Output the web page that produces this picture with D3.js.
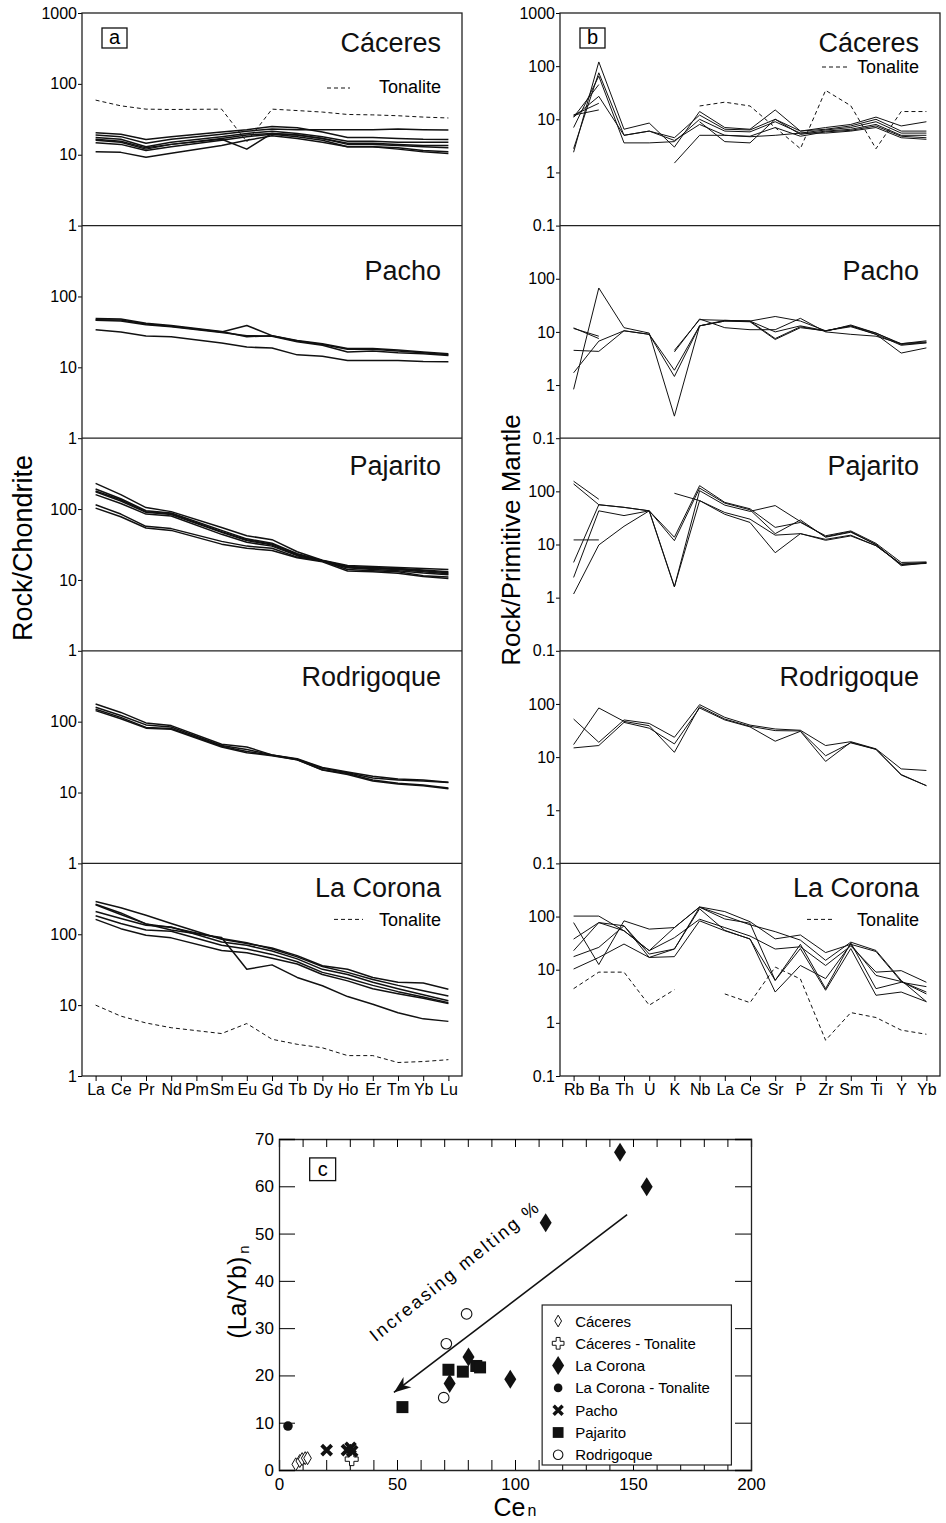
<!DOCTYPE html>
<html lang="en">
<head>
<meta charset="UTF-8">
<title>REE, spider and (La/Yb)n vs Ce diagrams</title>
<script src="https://cdnjs.cloudflare.com/ajax/libs/d3/7.8.5/d3.min.js"></script>
<style>
  body { margin: 0; background: #fff; }
  svg { display: block; font-family: Arial, "Liberation Sans", sans-serif; }
</style>
</head>
<body>
<script>
  // element order on the two x axes
  const reeElements = ["La","Ce","Pr","Nd","Pm","Sm","Eu","Gd","Tb","Dy","Ho","Er","Tm","Yb","Lu"];
  const spiderElements = ["Rb","Ba","Th","U","K","Nb","La","Ce","Sr","P","Zr","Sm","Ti","Y","Yb"];
  const units = ["Cáceres", "Pacho", "Pajarito", "Rodrigoque", "La Corona"];

  // --- (a) rock / chondrite, one row per sample, Pm not analysed ---
  const reeCaceres = [
    [20.5, 19.5, 16.4, 18, null, 21, 22.5, 25, 24, 21, 17.5, 17.5, 17, 16.5, 16.4],
    [19, 18, 14.5, 16.5, null, 19.5, 21.5, 23, 22.5, 22.5, 22.5, 22.5, 23, 22.5, 22.3],
    [17.5, 16.5, 13, 15, null, 18, 20, 21.5, 20, 18, 15.5, 15.5, 15, 15, 15],
    [16, 15, 12, 14, null, 17, 19, 20, 19, 17, 14.5, 14.5, 14, 13.5, 13.5],
    [14.8, 14, 11.5, 13, null, 16, 18, 19.5, 18, 16, 13, 13, 12.5, 11.5, 11],
    [11, 10.8, 9.2, 10.5, null, 13.5, 16, 18.5, 17, 15, 13, 13, 12, 11, 10.4],
    [16.5, 15.5, 12.5, 14, null, 16.5, 12, 20, 19, 17, 14, 14, 13.5, 13, 12.5]
  ];
  const reeCaceresTonalite = [59, 49, 44, 43.5, null, 44, 15.2, 44, 42, 40, 37, 36.5, 35.5, 34, 33];
  const reePacho = [
    [49, 48, 42, 39, null, 32, 27, 28, 24, 21.5, 18.5, 18.5, 17.5, 16.5, 15.5],
    [47, 46.5, 41, 38, null, 31.5, 39, 28, 23.5, 21, 18, 18, 17, 16, 15],
    [46, 45, 40, 37.5, null, 31, 28, 27.5, 23, 20.5, 16.5, 17, 16, 15.5, 14.7],
    [34, 31.6, 27.7, 27, null, 22, 19.3, 18.7, 15, 14.3, 12.5, 12.5, 12.5, 12.1, 12]
  ];
  const reePajarito = [
    [230, 160, 105, 92, null, 55, 42, 37, 25, 19, 16, 15.5, 15, 14.5, 14],
    [192, 140, 95, 88, null, 50, 38, 33, 23.5, 18.8, 15.5, 15, 14.5, 13.8, 13],
    [180, 135, 92, 86, null, 48, 37, 32, 23, 18.6, 15.2, 14.7, 14.3, 13.5, 12.6],
    [175, 130, 90, 84, null, 47, 36, 31, 22.5, 18.5, 15, 14.5, 14, 13, 12.2],
    [160, 120, 85, 80, null, 44, 34, 30, 22, 18.3, 14.8, 14, 13.5, 12.5, 11.8],
    [115, 85, 57, 53, null, 35, 30, 28, 21, 18.5, 14, 13.5, 13, 11.5, 11],
    [103, 78, 54, 50, null, 32, 28, 26, 20.5, 18, 13.4, 13, 12.4, 11.2, 10.5]
  ];
  const reeRodrigoque = [
    [178, 135, 96, 88, null, 48, 44, 34, 30, 22.5, 19.5, 17, 15.5, 15, 14],
    [160, 122, 90, 84, null, 46, 40.5, 34, 29.5, 22, 19, 16, 15, 14.5, 13.8],
    [150, 115, 83, 80, null, 45, 38, 33.5, 29, 21, 18.5, 15, 13.5, 12.8, 11.6],
    [143, 110, 81, 78, null, 44, 36.5, 33, 29, 20.8, 18, 14.5, 13.2, 12.5, 11.3]
  ];
  const reeLaCorona = [
    [290, 237, 186, 142, null, 85, 74, 64, 50, 36, 32, 24.5, 21, 20.5, 16.8],
    [265, 200, 140, 125, null, 87, 76, 62, 48, 35, 29, 23, 19, 16, 13.5],
    [210, 167, 134, 127, null, 78, 70, 58, 45, 32, 27, 21, 17, 14, 11.5],
    [183, 142, 115, 110, null, 70, 62, 52, 41, 29, 24, 19, 15.5, 13, 10.8],
    [162, 120, 97, 89, null, 59, 55, 46, 38, 27, 22, 17, 14.5, 12.5, 10.5],
    [260, 190, 140, 115, null, 90, 32, 37, 24.6, 18.8, 13.2, 10.3, 7.8, 6.4, 5.9]
  ];
  const reeLaCoronaTonalite = [10, 7, 5.6, 4.8, null, 3.97, 5.5, 3.3, 2.8, 2.5, 1.94, 1.94, 1.55, 1.6, 1.7];

  // --- (b) rock / primitive mantle, null = not analysed (line breaks) ---
  const spCaceres = [
    [2.4, 120, 6.5, 8.5, 3.0, 14, 7, 6.5, 15, 6, 7, 8, 11, 7.5, 9],
    [2.8, 75, 5, 6, 4.5, 12, 6.5, 6.3, 10, 6, 6.5, 7.5, 10, 6, 6],
    [7, 65, 3.6, 3.6, 3.8, 10, 6, 5.8, 9, 5.5, 6.3, 7, 9, 5.5, 5.5],
    [11, 45, null, null, null, 9, 3.8, 3.6, 10, 5.2, 6, 6.5, 8, 5, 5],
    [11, 27, 5, 6, 4, 8, 5, 4.8, 7, 4.8, 5.8, 6.2, 7.5, 4.8, 4.5],
    [12, 20, null, null, null, null, null, null, null, null, null, null, null, null, null],
    [12, 15, null, null, null, null, null, null, null, null, null, null, null, null, null],
    [null, null, null, null, 1.5, 5, 5, 4.7, 5, 5.5, 5.5, 6, 7, 4.5, 4.2]
  ];
  const spCaceresTonalite = [null, null, null, null, null, 17.8, 21, 17.8, 7, 2.8, 35, 18, 2.8, 14, 14];
  const spPacho = [
    [0.83, 67, 12, 9.5, 0.26, 13, 16, 16, 10, 13, 10.5, 13, 9.5, 6, 6.5],
    [1.7, 6.7, 10.5, 9, 1.45, 13, 16.5, 16, 7.5, 12.5, 10.3, 13.5, 9.5, 5.8, 6.3],
    [4.5, 4.3, 10.5, 9, 1.9, 13, 16, 15.5, 7.2, 12, 10.5, 13, 9, 5.6, 6.2],
    [11.9, 7.5, null, null, null, null, null, null, null, null, null, null, null, null, null],
    [11.6, 8.3, null, null, null, null, null, null, null, null, null, null, null, null, null],
    [null, null, null, null, 4.5, 17, 16.5, 16, 19.5, 16, 10.5, 12.5, 9, 4, 5],
    [null, null, null, null, 4.2, 17.5, 12, 11, 11, 18, 10, 9, 8.3, 6, 6.8]
  ];
  const spPajarito = [
    [155, 71, null, null, null, null, null, null, null, null, null, null, null, null, null],
    [138, 56, 50, 43, 13.7, 128, 62, 47, 21, 26, 14.6, 18, 10.5, 4.6, 4.7],
    [4.6, 56, 50, 43, 11.8, 115, 60, 45, 16, 29, 13.7, 17, 10, 4.2, 4.5],
    [2.4, 43, 35, 43, 1.6, 103, 55, 42, 54, 27, 14, 17.5, 10, 4, 4.5],
    [1.17, 9.8, 22, 43, 1.6, 67, 40, 30, 15, 16, 12, 14.5, 9.5, 4.3, 4.6],
    [12.2, 12.2, null, null, null, null, null, null, null, null, null, null, null, null, null],
    [null, null, null, null, 92, 67, 37, 26, 7, 16, 12.5, 15, 9.5, 4.2, 4.4]
  ];
  const spRodrigoque = [
    [52, 19, 50, 43, 23.6, 97, 56, 40, 33.8, 32, 16.5, 19.5, 14.3, 6, 5.6],
    [17.2, 84, 47, 39, 12.3, 89, 52, 38, 31.5, 31, 10.6, 18.5, 14, 4.6, 2.9],
    [14.9, 16.5, 45, 35, 17.7, 84, 50, 37, 19.9, 30.6, 8.3, 19, 14, 4.7, 2.9]
  ];
  const spLaCorona = [
    [102, 102, 54, 22.8, 62, 152, 124, 80, 38, 45, 21, 30, 22, 6, 3.8],
    [77, 12.5, 83, 58, 62, 150, 103, 70, 52, 36, 15, 33, 23, 6.3, 2.5],
    [37.7, 77, 54, 22.8, 40, 89, 62, 43, 24.5, 27, 12, 28, 9, 9.6, 5.8],
    [22.8, 77, 67, 19.7, 24.5, 150, 90, 75, 6.3, 30, 4.4, 32, 4.4, 5.8, 4.8],
    [17.6, 26.3, 67, 17, 17.6, 83, 54, 38, 3.8, 12, 6.8, 30, 7.8, 6, 3.5],
    [10.3, 17, 30.4, 17, 24.5, 140, 55, 37.7, 6.3, 25, 4.1, 25, 3.3, 3.8, 2.5]
  ];
  const spLaCoronaTonalite = [4.4, 9, 9, 2.15, 4.2, null, 3.5, 2.4, 11.2, 6.7, 0.47, 1.56, 1.26, 0.73, 0.61];

  // --- (c) Ce_n vs (La/Yb)_n, [Ce_n, (La/Yb)_n] ---
  const ptsCaceres = [[7.1, 1.2], [8.8, 1.9], [9.8, 2.3], [11.1, 2.5], [12.1, 2.5]];
  const ptsCaceresTonalite = [[30.8, 2.3]];
  const ptsLaCorona = [[72.3, 18.3], [80.3, 23.9], [98, 19.2], [113, 52.3], [144.5, 67.2], [155.8, 59.9]];
  const ptsLaCoronaTonalite = [[3.8, 9.3]];
  const ptsPacho = [[20.2, 4.2], [28.8, 4.2], [30.3, 4.7], [31, 4]];
  const ptsPajarito = [[52.3, 13.3], [71.8, 21.2], [77.9, 20.8], [83.6, 22], [85.2, 21.7]];
  const ptsRodrigoque = [[79.5, 33], [70.9, 26.7], [69.8, 15.3]];
  const arrowFrom = [147.5, 54], arrowTo = [48.7, 16.4];

  const W = 946, H = 1523;
  const svg = d3.select("body").append("svg").attr("width", W).attr("height", H);
  svg.append("rect").attr("width", W).attr("height", H).attr("fill", "#fff");

  const plotTop = 13, plotBottom = 1076, rowH = (plotBottom - plotTop) / 5;
  const titleDy = [39, 54, 37, 35, 34]; // title baseline below each row top

  // one column of five stacked log panels
  function drawColumn(xr, elements, minV, samples, tonalites, bridge, sw, letter, tonLegend) {
    const x = d3.scalePoint().domain(elements).range(xr).padding(0.54);
    const g = svg.append("g");

    units.forEach((unit, i) => {
      const y = d3.scaleLog().domain([minV, 1000]).range([plotTop + (i + 1) * rowH, plotTop + i * rowH]);
      const line = d3.line().x(d => x(d.el)).y(d => y(d.v));
      if (!bridge) line.defined(d => d.v != null);
      const toPts = arr => {
        const p = arr.map((v, k) => ({ el: elements[k], v: v }));
        return bridge ? p.filter(d => d.v != null) : p;
      };

      g.append("g").selectAll("path")
        .data(samples[i])
        .join("path")
        .attr("d", s => line(toPts(s)))
        .attr("fill", "none")
        .attr("stroke", "#111")
        .attr("stroke-width", sw)
        .attr("stroke-linejoin", "round");

      if (tonalites[i]) {
        g.append("path")
          .attr("d", line(toPts(tonalites[i])))
          .attr("fill", "none")
          .attr("stroke", "#111")
          .attr("stroke-width", 1)
          .attr("stroke-dasharray", "4,3");
        const L = tonLegend[i];
        g.append("line")
          .attr("x1", L[0]).attr("x2", L[1])
          .attr("y1", plotTop + i * rowH + L[2]).attr("y2", plotTop + i * rowH + L[2])
          .attr("stroke", "#111").attr("stroke-dasharray", "4,3");
        g.append("text")
          .attr("x", xr[1] - 21).attr("y", plotTop + i * rowH + L[3])
          .attr("text-anchor", "end").attr("font-size", 18)
          .text("Tonalite");
      }

      // panel title
      g.append("text")
        .attr("x", xr[1] - 21).attr("y", plotTop + i * rowH + titleDy[i])
        .attr("text-anchor", "end").attr("font-size", 27).attr("fill", "#111")
        .text(unit);

      // left ticks
      const ticks = minV === 1 ? [1, 10, 100] : [0.1, 1, 10, 100];
      if (i === 0) ticks.push(1000);
      g.append("g")
        .attr("transform", `translate(${xr[0]},0)`)
        .call(d3.axisLeft(y).tickValues(ticks).tickFormat(d => d).tickSize(4).tickPadding(1))
        .call(a => a.select(".domain").remove())
        .attr("font-size", 16).attr("font-family", null);

      if (i > 0) {
        g.append("line")
          .attr("x1", xr[0]).attr("x2", xr[1])
          .attr("y1", plotTop + i * rowH).attr("y2", plotTop + i * rowH)
          .attr("stroke", "#222").attr("stroke-width", 1.3);
      }
    });

    g.append("rect")
      .attr("x", xr[0]).attr("y", plotTop)
      .attr("width", xr[1] - xr[0]).attr("height", plotBottom - plotTop)
      .attr("fill", "none").attr("stroke", "#222").attr("stroke-width", 1.3);

    g.append("g")
      .attr("transform", `translate(0,${plotBottom})`)
      .call(d3.axisBottom(x).tickSize(5).tickPadding(3))
      .call(a => a.select(".domain").remove())
      .attr("font-size", 16).attr("font-family", null);

    // panel letter box
    g.append("rect")
      .attr("x", xr[0] + 20).attr("y", 28).attr("width", 25).attr("height", 20)
      .attr("fill", "none").attr("stroke", "#111").attr("stroke-width", 1.3);
    g.append("text")
      .attr("x", xr[0] + 32.5).attr("y", 44)
      .attr("text-anchor", "middle").attr("font-size", 20)
      .text(letter);
  }

  drawColumn([82, 462], reeElements, 1,
    [reeCaceres, reePacho, reePajarito, reeRodrigoque, reeLaCorona],
    [reeCaceresTonalite, null, null, null, reeLaCoronaTonalite],
    true, 1.5, "a",
    [[327, 350, 75, 80], null, null, null, [334, 363, 56, 63]]);

  drawColumn([560, 940], spiderElements, 0.1,
    [spCaceres, spPacho, spPajarito, spRodrigoque, spLaCorona],
    [spCaceresTonalite, null, null, null, spLaCoronaTonalite],
    false, 1, "b",
    [[822, 850, 54, 60], null, null, null, [807, 833, 56, 63]]);

  // y titles
  svg.append("text")
    .attr("transform", "translate(32,548) rotate(-90)")
    .attr("text-anchor", "middle").attr("font-size", 27)
    .text("Rock/Chondrite");
  svg.append("text")
    .attr("transform", "translate(520,540) rotate(-90)")
    .attr("text-anchor", "middle").attr("font-size", 26)
    .text("Rock/Primitive Mantle");

  // ---------- panel c ----------
  const xC = d3.scaleLinear().domain([0, 200]).range([279, 751]);
  const yC = d3.scaleLinear().domain([0, 70]).range([1470, 1139]);
  const gc = svg.append("g");

  gc.append("g").attr("transform", `translate(0,${yC(0)})`)
    .call(d3.axisBottom(xC).tickValues(d3.range(0, 201, 10)).tickSize(-10).tickPadding(8)
      .tickFormat(d => d % 50 === 0 ? d : ""))
    .attr("font-size", 17).attr("font-family", null);
  gc.append("g").attr("transform", `translate(0,${yC(70)})`)
    .call(d3.axisTop(xC).tickValues(d3.range(0, 201, 10)).tickSize(-8).tickFormat(""));
  gc.append("g").attr("transform", `translate(${xC(0)},0)`)
    .call(d3.axisLeft(yC).tickValues(d3.range(0, 71, 10)).tickSize(-16).tickPadding(5))
    .attr("font-size", 17).attr("font-family", null);
  gc.append("g").attr("transform", `translate(${xC(200)},0)`)
    .call(d3.axisRight(yC).tickValues(d3.range(0, 71, 10)).tickSize(-16).tickFormat(""));
  gc.selectAll(".domain").attr("stroke", "#222").attr("stroke-width", 1.3);

  // letter box c
  gc.append("rect")
    .attr("x", xC(13)).attr("y", yC(66)).attr("width", xC(24) - xC(13)).attr("height", yC(61.2) - yC(66))
    .attr("fill", "none").attr("stroke", "#111").attr("stroke-width", 1.3);
  gc.append("text")
    .attr("x", (xC(13) + xC(24)) / 2).attr("y", yC(61.2) - 5)
    .attr("text-anchor", "middle").attr("font-size", 20).text("c");

  // arrow
  const ax1 = xC(arrowFrom[0]), ay1 = yC(arrowFrom[1]);
  const ax2 = xC(arrowTo[0]), ay2 = yC(arrowTo[1]);
  const ang = Math.atan2(ay2 - ay1, ax2 - ax1) * 180 / Math.PI;
  gc.append("line")
    .attr("x1", ax1).attr("y1", ay1).attr("x2", ax2).attr("y2", ay2)
    .attr("stroke", "#111").attr("stroke-width", 1.6);
  gc.append("path")
    .attr("d", "M0,0 L-17,-6.5 L-12,0 L-17,6.5 Z")
    .attr("transform", `translate(${ax2},${ay2}) rotate(${ang})`)
    .attr("fill", "#111");
  gc.append("text")
    .attr("transform", `translate(${xC(41)},${yC(27)}) rotate(${ang + 180 - 1.5})`)
    .attr("font-size", 18).attr("letter-spacing", 2.3)
    .text("Increasing melting %");

  // symbol painters
  function sym(sel, type, s) {
    s = s || 1;
    if (type === "openDiamond") {
      sel.append("path").attr("d", `M0,${-6.5 * s} L${3.8 * s},0 L0,${6.5 * s} L${-3.8 * s},0 Z`)
        .attr("fill", "#fff").attr("stroke", "#111").attr("stroke-width", 1);
    } else if (type === "openCross") {
      const a = 2.2 * s, b = 6.5 * s;
      sel.append("path")
        .attr("d", `M${-a},${-b} H${a} V${-a} H${b} V${a} H${a} V${b} H${-a} V${a} H${-b} V${-a} H${-a} Z`)
        .attr("fill", "#fff").attr("stroke", "#111").attr("stroke-width", 1);
    } else if (type === "diamond") {
      sel.append("path").attr("d", `M0,${-9.5 * s} L${6 * s},0 L0,${9.5 * s} L${-6 * s},0 Z`).attr("fill", "#111");
    } else if (type === "dot") {
      sel.append("circle").attr("r", 4.8 * s).attr("fill", "#111");
    } else if (type === "x") {
      const r = 5 * s;
      sel.append("path").attr("d", `M${-r},${-r} L${r},${r} M${-r},${r} L${r},${-r}`)
        .attr("stroke", "#111").attr("stroke-width", 3.8 * s);
    } else if (type === "square") {
      sel.append("rect").attr("x", -6 * s).attr("y", -6 * s).attr("width", 12 * s).attr("height", 12 * s).attr("fill", "#111");
    } else if (type === "circle") {
      sel.append("circle").attr("r", 5.3 * s).attr("fill", "#fff").attr("stroke", "#111").attr("stroke-width", 1.1);
    }
  }

  const groups = [
    ["Cáceres", "openDiamond", ptsCaceres],
    ["Cáceres - Tonalite", "openCross", ptsCaceresTonalite],
    ["La Corona", "diamond", ptsLaCorona],
    ["La Corona - Tonalite", "dot", ptsLaCoronaTonalite],
    ["Pacho", "x", ptsPacho],
    ["Pajarito", "square", ptsPajarito],
    ["Rodrigoque", "circle", ptsRodrigoque]
  ];

  groups.forEach(([name, type, pts]) => {
    gc.append("g").selectAll("g")
      .data(pts)
      .join("g")
      .attr("transform", d => `translate(${xC(d[0])},${yC(d[1])})`)
      .each(function () { sym(d3.select(this), type); });
  });

  // legend
  const lgX0 = xC(111.5), lgX1 = xC(191.7), lgY0 = 1305, lgY1 = 1465;
  gc.append("rect")
    .attr("x", lgX0).attr("y", lgY0).attr("width", lgX1 - lgX0).attr("height", lgY1 - lgY0)
    .attr("fill", "#fff").attr("stroke", "#222").attr("stroke-width", 1.2);
  groups.forEach(([name, type], k) => {
    const cy = lgY0 + 16 + 22.3 * k;
    sym(gc.append("g").attr("transform", `translate(${lgX0 + 16},${cy})`), type, k === 2 ? 1 : 0.9);
    gc.append("text").attr("x", lgX0 + 33).attr("y", cy + 5.5)
      .attr("font-size", 15).text(name);
  });

  // axis titles for c
  const yt = gc.append("text")
    .attr("transform", `translate(246,1292) rotate(-90)`)
    .attr("text-anchor", "middle").attr("font-size", 25);
  yt.append("tspan").text("(La/Yb)");
  yt.append("tspan").attr("font-size", 15).attr("dy", 3).attr("dx", 3).text("n");

  const xt = gc.append("text")
    .attr("x", (xC(0) + xC(200)) / 2).attr("y", 1516)
    .attr("text-anchor", "middle").attr("font-size", 25);
  xt.append("tspan").text("Ce");
  xt.append("tspan").attr("font-size", 16).attr("dx", 2).text("n");
</script>
</body>
</html>
